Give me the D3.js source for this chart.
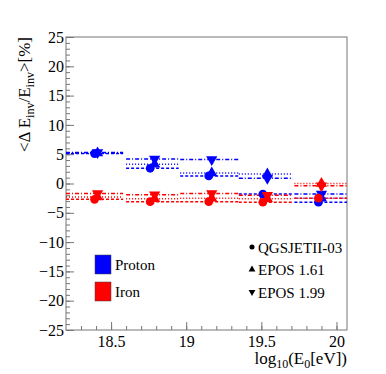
<!DOCTYPE html>
<html>
<head>
<meta charset="utf-8">
<script src="https://cdn.jsdelivr.net/npm/d3@7"></script>
<style>
  body { margin: 0; background: #fff; }
  svg text { font-family: "Liberation Serif", "DejaVu Serif", serif; }
</style>
</head>
<body>
<div id="chart"></div>
<script>
// energy bins (log10 E0) and mean energies of the points
const binLo = [18.2, 18.6, 18.96, 19.35, 19.72];
const binHi = [18.58, 18.95, 19.35, 19.71, 20.07];
const xQGS = [18.39, 18.76, 19.15, 19.51, 19.88];
const xEPOS = [18.41, 18.79, 19.17, 19.54, 19.9];

// <dE/E> in %
const protonQGS = [5.1, 2.6, 1.3, -1.8, -3.2];
const protonEPOS161 = [5.2, 3.3, 1.8, 1.6, -2.5];
const protonEPOS199 = [5.3, 4.2, 4.1, 0.9, -1.8];
const ironQGS = [-2.7, -3.1, -3.1, -3.2, -2.5];
const ironEPOS161 = [-2.3, -2.6, -2.5, -2.6, 0.0];
const ironEPOS199 = [-1.7, -1.9, -1.7, -2.0, -0.4];

const xTicks = [18.5, 19, 19.5, 20];
const yTicks = [-25, -20, -15, -10, -5, 0, 5, 10, 15, 20, 25];

const width = 386, height = 374;
const mLeft = 66, mRight = 347, mTop = 37, mBottom = 330;
const serif = "Liberation Serif, DejaVu Serif, serif";

const svg = d3.select("#chart").append("svg")
    .attr("width", width)
    .attr("height", height);

const x = d3.scaleLinear().domain([18.2, 20.07]).range([mLeft, mRight]);
const y = d3.scaleLinear().domain([-25, 25]).range([mBottom, mTop]);

const models = [
    { name: "QGSJETII-03", xs: xQGS, sym: d3.symbolCircle, size: 60, rot: 0, dash: "3,2" },
    { name: "EPOS 1.61", xs: xEPOS, sym: d3.symbolTriangle, size: 55, rot: 0, dash: "1,2" },
    { name: "EPOS 1.99", xs: xEPOS, sym: d3.symbolTriangle, size: 55, rot: 180, dash: "4,2,1,2" }
];
const series = [
    { color: "#0000ff", vals: [protonQGS, protonEPOS161, protonEPOS199] },
    { color: "#ff0000", vals: [ironQGS, ironEPOS161, ironEPOS199] }
];

// frame
svg.append("rect")
    .attr("x", mLeft).attr("y", mTop)
    .attr("width", mRight - mLeft).attr("height", mBottom - mTop)
    .attr("fill", "none").attr("stroke", "#777").attr("stroke-width", 1);

// y axis
const yMajor = svg.append("g").attr("transform", `translate(${mLeft},0)`)
    .call(d3.axisLeft(y).tickValues(yTicks).tickSize(-8).tickPadding(2));
const yMinor = svg.append("g").attr("transform", `translate(${mLeft},0)`)
    .call(d3.axisLeft(y).tickValues(d3.range(-25, 26, 1)).tickSize(-4).tickFormat(""));

// x axis
const xMajor = svg.append("g").attr("transform", `translate(0,${mBottom})`)
    .call(d3.axisBottom(x).tickValues(xTicks).tickSize(-8).tickPadding(6).tickFormat(d3.format("")));
const xMinor = svg.append("g").attr("transform", `translate(0,${mBottom})`)
    .call(d3.axisBottom(x).tickValues(d3.range(18.3, 20.06, 0.1)).tickSize(-4).tickFormat(""));

[yMajor, yMinor, xMajor, xMinor].forEach(g => {
    g.attr("font-family", serif).attr("font-size", 16);
    g.select(".domain").remove();
    g.selectAll("line").attr("stroke", "#777");
    g.selectAll("text").attr("fill", "#000")
        .style("font-family", serif).style("font-size", "16px");
});

// horizontal bin lines
series.forEach(s => {
    models.forEach((m, mi) => {
        svg.append("g").selectAll("line")
            .data(s.vals[mi])
            .join("line")
            .attr("x1", (d, i) => x(binLo[i]))
            .attr("x2", (d, i) => x(binHi[i]))
            .attr("y1", d => y(d))
            .attr("y2", d => y(d))
            .attr("stroke", s.color)
            .attr("stroke-width", 1.5)
            .attr("stroke-dasharray", m.dash);
    });
});

// markers
series.forEach(s => {
    models.forEach((m, mi) => {
        svg.append("g").selectAll("path")
            .data(s.vals[mi])
            .join("path")
            .attr("d", d3.symbol().type(m.sym).size(m.size))
            .attr("transform", (d, i) => `translate(${x(m.xs[i])},${y(d)}) rotate(${m.rot})`)
            .attr("fill", s.color);
    });
});

// axis titles
const yt = svg.append("text")
    .attr("transform", "translate(30,37) rotate(-90)")
    .attr("text-anchor", "end")
    .style("font-size", "17px");
yt.append("tspan").text("<\u0394 E");
yt.append("tspan").attr("dy", 4).style("font-size", "12px").text("inv");
yt.append("tspan").attr("dy", -4).text("/E");
yt.append("tspan").attr("dy", 4).style("font-size", "12px").text("inv");
yt.append("tspan").attr("dy", -4).text(">[%]");

const xt = svg.append("text")
    .attr("x", mRight).attr("y", 364)
    .attr("text-anchor", "end")
    .style("font-size", "17px");
xt.append("tspan").text("log");
xt.append("tspan").attr("dy", 4).style("font-size", "12px").text("10");
xt.append("tspan").attr("dy", -4).text("(E");
xt.append("tspan").attr("dy", 4).style("font-size", "12px").text("0");
xt.append("tspan").attr("dy", -4).text("[eV])");

// legend: primaries
const prim = [{ label: "Proton", color: "#0000ff" }, { label: "Iron", color: "#ff0000" }];
const pl = svg.append("g").selectAll("g").data(prim).join("g")
    .attr("transform", (d, i) => `translate(95,${255 + i * 27})`);
pl.append("rect").attr("width", 16).attr("height", 19)
    .attr("fill", d => d.color).attr("stroke", "#444").attr("stroke-width", 0.5);
pl.append("text").attr("x", 20).attr("y", 15).style("font-size", "15px").text(d => d.label);

// legend: models
const ml = svg.append("g").selectAll("g").data(models).join("g")
    .attr("transform", (d, i) => `translate(252,${247 + i * 22.5})`);
ml.append("path")
    .attr("d", m => d3.symbol().type(m.sym).size(20)())
    .attr("transform", m => `rotate(${m.rot})`)
    .attr("fill", "#000");
ml.append("text").attr("x", 6).attr("y", 5.5).style("font-size", "15px").text(m => m.name);
</script>
</body>
</html>
